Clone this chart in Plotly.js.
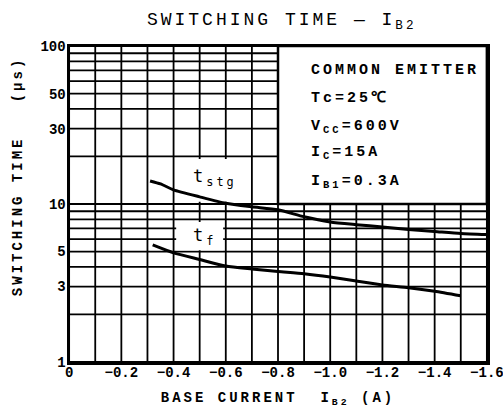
<!DOCTYPE html>
<html>
<head>
<meta charset="utf-8">
<script src="https://cdn.plot.ly/plotly-3.0.1.min.js"></script>
<style>
  html, body { margin: 0; padding: 0; background: #fff; }
  #chart { width: 503px; height: 419px; }
  .gtitle { letter-spacing: 3px; }
  .xtitle { letter-spacing: 3px; }
  .annotation-text { letter-spacing: 3px; }
</style>
</head>
<body>
<div id="chart"></div>
<script>
// ---- data ----
const tstgX = [-0.31, -0.35, -0.4, -0.5, -0.6, -0.7, -0.8, -0.9, -1.0, -1.1, -1.2, -1.3, -1.4, -1.5, -1.6];
const tstgY = [14.0, 13.4, 12.3, 11.1, 10.1, 9.6, 9.2, 8.3, 7.7, 7.4, 7.15, 6.9, 6.7, 6.5, 6.4];
const tfX = [-0.32, -0.4, -0.5, -0.6, -0.7, -0.8, -0.9, -1.0, -1.1, -1.2, -1.3, -1.4, -1.5];
const tfY = [5.5, 4.9, 4.45, 4.05, 3.88, 3.74, 3.62, 3.45, 3.25, 3.07, 2.95, 2.8, 2.62];

const xTickVals = [0, -0.1, -0.2, -0.3, -0.4, -0.5, -0.6, -0.7, -0.8, -0.9, -1.0, -1.1, -1.2, -1.3, -1.4, -1.5, -1.6];
const xTickText = ['0', '', '\u22120.2', '', '\u22120.4', '', '\u22120.6', '', '\u22120.8', '', '\u22121.0', '', '\u22121.2', '', '\u22121.4', '', '\u22121.6'];
const yTickVals = [1, 2, 3, 4, 5, 6, 7, 8, 9, 10, 20, 30, 40, 50, 60, 70, 80, 90, 100];
const yTickText = ['1', '', '3', '', '5', '', '', '', '', '10', '', '30', '', '50', '', '', '', '', '100'];

const infoLines = ['COMMON EMITTER', 'Tc=25\u2103', 'V<sub>CC</sub>=600V', 'I<sub>C</sub>=15A', 'I<sub>B1</sub>=0.3A'];
const curveLabels = ['t<sub>stg</sub>', 't<sub>f</sub>'];
const yTitle = 'SWITCHING TIME\u00a0\u00a0\u00a0(\u03bcs)';

// ---- chart ----
const MONO = 'Liberation Mono, DejaVu Sans Mono, monospace';
const lp = v => Math.log10(v) / 2; // paper fraction on the 1..100 log axis

const traces = [
  { x: tstgX, y: tstgY, mode: 'lines', line: { color: '#000', width: 3, shape: 'spline', smoothing: 0.6 }, hoverinfo: 'skip', name: 'tstg' },
  { x: tfX, y: tfY, mode: 'lines', line: { color: '#000', width: 3, shape: 'spline', smoothing: 0.6 }, hoverinfo: 'skip', name: 'tf' }
];

const infoY = [0.924, 0.835, 0.744, 0.661, 0.570];
const annotations = infoLines.map((t, i) => ({
  text: t, xref: 'paper', yref: 'paper', x: 0.575, y: infoY[i],
  xanchor: 'left', yanchor: 'middle', showarrow: false,
  font: { family: MONO, size: 15, color: '#000', weight: 'bold' }
}));
annotations.push({
  text: curveLabels[0], xref: 'x', yref: 'paper', x: -0.56, y: lp(14.8),
  xanchor: 'center', yanchor: 'middle', showarrow: false,
  font: { family: 'DejaVu Sans Mono, monospace', size: 17, color: '#000' }
});
annotations.push({
  text: curveLabels[1], xref: 'x', yref: 'paper', x: -0.52, y: lp(6.2),
  xanchor: 'center', yanchor: 'middle', showarrow: false,
  font: { family: 'DejaVu Sans Mono, monospace', size: 17, color: '#000' }
});
// y-axis title (placed as a rotated annotation so it can sit where the reference has it)
annotations.push({
  text: yTitle, xref: 'paper', yref: 'paper', x: -0.122, y: 0.585, textangle: -90,
  xanchor: 'center', yanchor: 'middle', showarrow: false,
  font: { family: MONO, size: 14, color: '#000', weight: 'bold' }
});

// grid drawn as shapes from the tick arrays, so white masks can sit on top of it
const gridLine = { color: '#000', width: 1.8 };
const shapes = [];
xTickVals.forEach(v => shapes.push({ type: 'line', layer: 'below', xref: 'x', yref: 'paper', x0: v, x1: v, y0: 0, y1: 1, line: gridLine }));
yTickVals.forEach(v => shapes.push({ type: 'line', layer: 'below', xref: 'paper', yref: 'paper', x0: 0, x1: 1, y0: lp(v), y1: lp(v), line: gridLine }));
// white areas behind curve labels
shapes.push({ type: 'rect', layer: 'below', xref: 'x', yref: 'paper', x0: -0.41, x1: -0.69, y0: lp(10.35), y1: lp(19.3), fillcolor: '#fff', line: { width: 0 } });
shapes.push({ type: 'rect', layer: 'below', xref: 'x', yref: 'paper', x0: -0.41, x1: -0.59, y0: lp(5.1), y1: lp(7.7), fillcolor: '#fff', line: { width: 0 } });
// condition box
shapes.push({ type: 'rect', layer: 'below', xref: 'x', yref: 'paper', x0: -0.8, x1: -1.6, y0: 0.5, y1: 1, fillcolor: '#fff', line: { color: '#000', width: 2.5 } });

const layout = {
  width: 503, height: 419,
  margin: { l: 69, r: 16, t: 46, b: 57 },
  paper_bgcolor: '#fff', plot_bgcolor: 'rgba(0,0,0,0)',
  showlegend: false,
  title: {
    text: 'SWITCHING TIME \u2014 I<sub>B2</sub>',
    xref: 'container', yref: 'container', x: 0.56, xanchor: 'center', y: 0.955, yanchor: 'middle',
    font: { family: MONO, size: 18, color: '#000' }
  },
  xaxis: {
    range: [0.0005, -1.6005], tickmode: 'array', tickvals: xTickVals, ticktext: xTickText,
    showgrid: false, zeroline: false,
    showline: true, mirror: true, linecolor: '#000', linewidth: 2.5, ticks: '',
    ticklabelstandoff: -4, ticklabeloverflow: 'allow',
    tickfont: { family: MONO, size: 14, color: '#000', weight: 'bold' },
    title: { text: 'BASE CURRENT  I<sub>B2</sub> (A)', standoff: 12, font: { family: MONO, size: 14, color: '#000', weight: 'bold' } }
  },
  yaxis: {
    type: 'log', range: [-0.001, 2.001], tickmode: 'array', tickvals: yTickVals, ticktext: yTickText,
    showgrid: false, zeroline: false,
    showline: true, mirror: true, linecolor: '#000', linewidth: 2.5, ticks: '',
    ticklabelstandoff: -2, ticklabeloverflow: 'allow',
    tickfont: { family: MONO, size: 14, color: '#000', weight: 'bold' }
  },
  annotations: annotations,
  shapes: shapes
};

Plotly.newPlot('chart', traces, layout, { staticPlot: true, displayModeBar: false });
</script>
</body>
</html>
